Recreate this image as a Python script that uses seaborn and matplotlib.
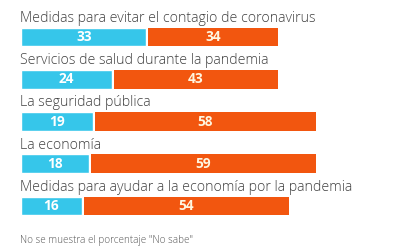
import numpy as np
import pandas as pd
import seaborn as sns
import matplotlib.pyplot as plt

temas = ["Medidas para evitar el contagio de coronavirus",
         "Servicios de salud durante la pandemia",
         "La seguridad pública",
         "La economía",
         "Medidas para ayudar a la economía por la pandemia"]
bien = [33, 24, 19, 18, 16]
mal = [34, 43, 58, 59, 54]
nota = 'No se muestra el porcentaje "No sabe"'

cyan = "#36c6ea"
naranja = "#f2560f"

df = pd.DataFrame({"tema": temas, "bien": bien, "mal": mal})

sns.set_style("white")
plt.rcParams['font.family'] = ['Open Sans', 'DejaVu Sans']

fig = plt.figure(figsize=(4.17, 2.46), dpi=100)
ax = fig.add_axes([21 / 417, 0, 396 / 417, 1])

gap = 0.5
h = 0.44
sns.barplot(data=df, y="tema", x="bien", color=cyan, width=h,
            saturation=1, ax=ax, orient="h")
ax.barh(np.arange(len(temas)), df["mal"], left=df["bien"] + gap,
        height=h, color=naranja, linewidth=0)

for i, row in df.iterrows():
    ax.text(-0.3, i - 0.44, row["tema"], ha="left", va="center",
            fontsize=10.2, color="#404040", fontweight="light")
    ax.text(row["bien"] / 2, i, str(row["bien"]), ha="center", va="center",
            fontsize=9.8, fontweight="bold", color="white")
    ax.text(row["bien"] + gap + row["mal"] / 2, i, str(row["mal"]),
            ha="center", va="center", fontsize=9.8, fontweight="bold",
            color="#fff6e0")

ax.set_xlim(0, 396 / 3.8)
ax.set_ylim(4.95, -0.88)
ax.axis("off")

fig.text(20 / 417, 1 - 240 / 246, nota, ha="left", va="center",
         fontsize=7.1, color="#555555", fontweight="light")

fig.savefig("out.png", dpi=100, facecolor="white")
